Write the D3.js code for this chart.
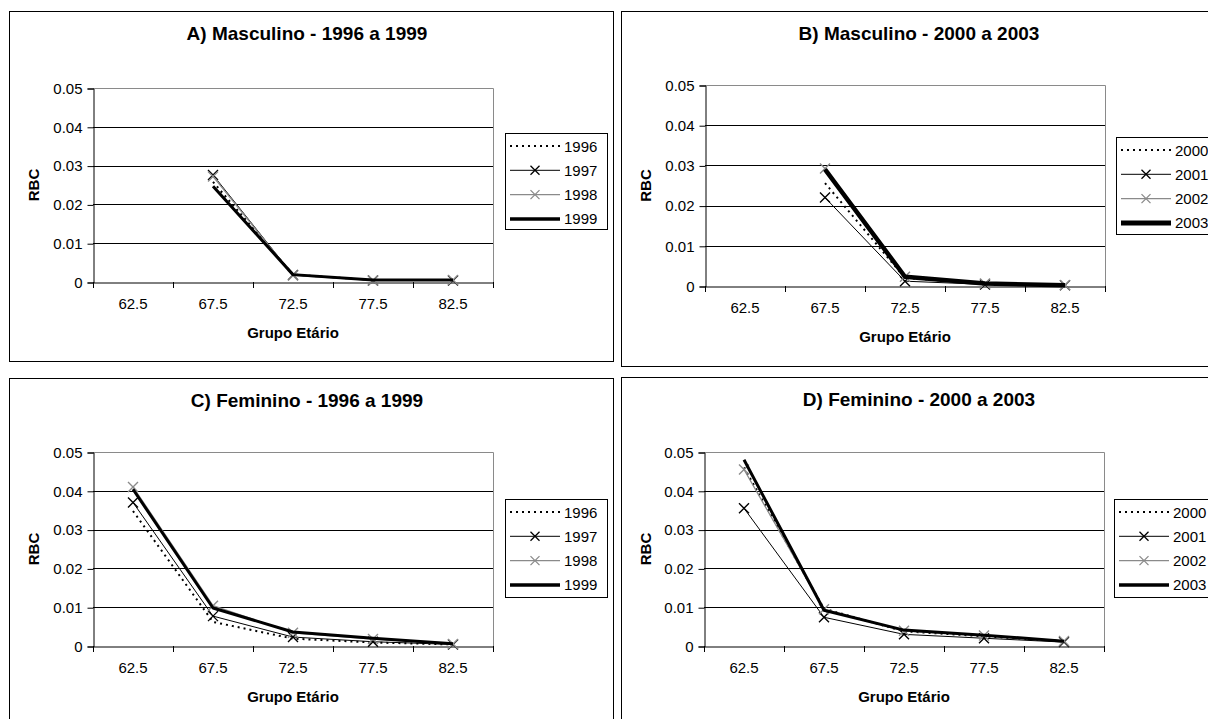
<!DOCTYPE html>
<html>
<head>
<meta charset="utf-8">
<script src="https://cdnjs.cloudflare.com/ajax/libs/d3/7.8.5/d3.min.js"></script>
<style>
body { margin: 0; background: #fff; }
svg { display: block; font-family: "Liberation Sans", Arial, sans-serif; }
</style>
</head>
<body>
<svg id="chart" width="1208" height="719"></svg>
<script>
'use strict';

var ageGroups = ['62.5', '67.5', '72.5', '77.5', '82.5'];
var yTicks = [0, 0.01, 0.02, 0.03, 0.04, 0.05];

var yearsEarly = ['1996', '1997', '1998', '1999'];
var yearsLate = ['2000', '2001', '2002', '2003'];

// Masculino (no value for 62.5)
var masc1996 = [null, 0.0258, 0.0019, 0.0005, 0.0005];
var masc1997 = [null, 0.0276, 0.0018, 0.0004, 0.0004];
var masc1998 = [null, 0.0272, 0.0017, 0.0004, 0.0005];
var masc1999 = [null, 0.0247, 0.0019, 0.0005, 0.0005];

var masc2000 = [null, 0.0256, 0.0020, 0.0006, 0.0002];
var masc2001 = [null, 0.0220, 0.0012, 0.0004, 0.0002];
var masc2002 = [null, 0.0292, 0.0023, 0.0006, 0.0002];
var masc2003 = [null, 0.0290, 0.0023, 0.0006, 0.0002];

// Feminino
var fem1996 = [0.0348, 0.0062, 0.0019, 0.0009, 0.0004];
var fem1997 = [0.0370, 0.0077, 0.0023, 0.0011, 0.0004];
var fem1998 = [0.0410, 0.0104, 0.0034, 0.0018, 0.0005];
var fem1999 = [0.0404, 0.0098, 0.0036, 0.0020, 0.0006];

var fem2000 = [0.0460, 0.0096, 0.0038, 0.0025, 0.0012];
var fem2001 = [0.0355, 0.0074, 0.0030, 0.0020, 0.0010];
var fem2002 = [0.0455, 0.0095, 0.0039, 0.0027, 0.0013];
var fem2003 = [0.0480, 0.0092, 0.0041, 0.0028, 0.0012];

var GRAY = '#8a8a8a';

var panels = [
    {
        title: 'A) Masculino - 1996 a 1999',
        box: {x: 9, y: 11, w: 604, h: 350},
        plot: {x: 93, y: 88, w: 400, h: 194},
        legend: {x: 505, y: 133, w: 102, h: 96},
        names: yearsEarly,
        series: [masc1996, masc1997, masc1998, masc1999],
        thick: 3
    },
    {
        title: 'B) Masculino - 2000 a 2003',
        box: {x: 621, y: 11, w: 604, h: 355},
        plot: {x: 705, y: 85, w: 400, h: 201},
        legend: {x: 1116, y: 137, w: 102, h: 97},
        names: yearsLate,
        series: [masc2000, masc2001, masc2002, masc2003],
        thick: 4.5
    },
    {
        title: 'C) Feminino - 1996 a 1999',
        box: {x: 9, y: 378, w: 604, h: 345},
        plot: {x: 93, y: 452, w: 400, h: 194},
        legend: {x: 505, y: 499, w: 102, h: 98},
        names: yearsEarly,
        series: [fem1996, fem1997, fem1998, fem1999],
        thick: 3
    },
    {
        title: 'D) Feminino - 2000 a 2003',
        box: {x: 621, y: 377, w: 604, h: 346},
        plot: {x: 704, y: 452, w: 400, h: 194},
        legend: {x: 1114, y: 499, w: 102, h: 98},
        names: yearsLate,
        series: [fem2000, fem2001, fem2002, fem2003],
        thick: 3
    }
];

// style per series index: dotted, black X, gray X, thick
function seriesStyle(i, thick) {
    if (i === 0) return {stroke: '#000', width: 2, dash: '2,4', marker: false};
    if (i === 1) return {stroke: '#000', width: 1, dash: null, marker: true};
    if (i === 2) return {stroke: GRAY, width: 1.3, dash: null, marker: true};
    return {stroke: '#000', width: thick, dash: null, marker: false};
}

var xMark = 'M-5,-5L5,5M-5,5L5,-5';

var svg = d3.select('#chart');

panels.forEach(function (p) {
    var g = svg.append('g');

    g.append('rect')
        .attr('x', p.box.x + 0.5).attr('y', p.box.y + 0.5)
        .attr('width', p.box.w).attr('height', p.box.h)
        .attr('fill', '#fff').attr('stroke', '#000').attr('stroke-width', 1);

    g.append('text')
        .attr('x', p.box.x + 298).attr('y', p.box.y + 29)
        .attr('text-anchor', 'middle')
        .style('font-size', '19px').style('font-weight', 'bold')
        .text(p.title);

    var x = d3.scaleBand().domain(ageGroups).range([p.plot.x, p.plot.x + p.plot.w]);
    var y = d3.scaleLinear().domain([0, 0.05]).range([p.plot.y + p.plot.h, p.plot.y]);

    // gridlines
    g.append('g').selectAll('line')
        .data(yTicks.slice(1, -1))
        .enter().append('line')
        .attr('x1', p.plot.x).attr('x2', p.plot.x + p.plot.w)
        .attr('y1', function (d) { return Math.round(y(d)) + 0.5; })
        .attr('y2', function (d) { return Math.round(y(d)) + 0.5; })
        .attr('stroke', '#000');

    // plot border top/right
    g.append('path')
        .attr('d', 'M' + p.plot.x + ',' + (p.plot.y + 0.5) + 'H' + (p.plot.x + p.plot.w + 0.5) +
            'V' + (p.plot.y + p.plot.h))
        .attr('fill', 'none').attr('stroke', GRAY);

    // y axis
    var yAxis = g.append('g')
        .attr('transform', 'translate(' + (p.plot.x + 0.5) + ',0.5)')
        .call(d3.axisLeft(y).tickValues(yTicks).tickSize(6).tickPadding(5)
            .tickFormat(function (d) { return d === 0 ? '0' : d.toFixed(2); }));
    yAxis.select('.domain').attr('stroke', '#000');
    yAxis.selectAll('text').style('font-size', '15px').style('font-family', null).attr('fill', '#000');

    // x axis labels
    var xAxis = g.append('g')
        .attr('transform', 'translate(0,' + (p.plot.y + p.plot.h + 0.5) + ')')
        .call(d3.axisBottom(x).tickSize(0).tickPadding(16));
    xAxis.select('.domain').attr('stroke', '#000');
    xAxis.selectAll('text').style('font-size', '15px').style('font-family', null).attr('fill', '#000');

    // category boundary ticks
    g.append('g').selectAll('line')
        .data(d3.range(ageGroups.length + 1))
        .enter().append('line')
        .attr('x1', function (i) { return Math.round(p.plot.x + i * x.step()) + 0.5; })
        .attr('x2', function (i) { return Math.round(p.plot.x + i * x.step()) + 0.5; })
        .attr('y1', p.plot.y + p.plot.h)
        .attr('y2', p.plot.y + p.plot.h + 6)
        .attr('stroke', '#000');

    g.append('text')
        .attr('x', p.plot.x + p.plot.w / 2).attr('y', p.plot.y + p.plot.h + 56)
        .attr('text-anchor', 'middle')
        .style('font-size', '15px').style('font-weight', 'bold')
        .text('Grupo Etário');

    g.append('text')
        .attr('transform', 'translate(' + (p.box.x + 30) + ',' + (p.plot.y + p.plot.h / 2) + ') rotate(-90)')
        .attr('text-anchor', 'middle')
        .style('font-size', '15px').style('font-weight', 'bold')
        .text('RBC');

    var line = d3.line()
        .defined(function (d) { return d != null; })
        .x(function (d, i) { return x(ageGroups[i]) + x.bandwidth() / 2; })
        .y(function (d) { return y(d); });

    p.series.forEach(function (vals, i) {
        var st = seriesStyle(i, p.thick);
        g.append('path')
            .datum(vals)
            .attr('d', line)
            .attr('fill', 'none')
            .attr('stroke', st.stroke)
            .attr('stroke-width', st.width)
            .attr('stroke-dasharray', st.dash)
            .attr('stroke-linejoin', 'round');

        if (st.marker) {
            g.append('g').selectAll('path')
                .data(vals.map(function (v, k) { return {v: v, k: k}; })
                    .filter(function (d) { return d.v != null; }))
                .enter().append('path')
                .attr('d', xMark)
                .attr('transform', function (d) {
                    return 'translate(' + (x(ageGroups[d.k]) + x.bandwidth() / 2) + ',' + y(d.v) + ')';
                })
                .attr('fill', 'none')
                .attr('stroke', st.stroke)
                .attr('stroke-width', 1.4);
        }
    });

    // legend
    var lg = g.append('g');
    lg.append('rect')
        .attr('x', p.legend.x + 0.5).attr('y', p.legend.y + 0.5)
        .attr('width', p.legend.w).attr('height', p.legend.h)
        .attr('fill', '#fff').attr('stroke', '#000');

    p.names.forEach(function (name, i) {
        var st = seriesStyle(i, p.thick);
        var ly = p.legend.y + 13 + i * 24.3;
        lg.append('line')
            .attr('x1', p.legend.x + 5).attr('x2', p.legend.x + 55)
            .attr('y1', ly).attr('y2', ly)
            .attr('stroke', st.stroke)
            .attr('stroke-width', i === 3 ? st.width + 0.5 : st.width)
            .attr('stroke-dasharray', st.dash);
        if (st.marker) {
            lg.append('path')
                .attr('d', xMark)
                .attr('transform', 'translate(' + (p.legend.x + 30) + ',' + ly + ') scale(0.9)')
                .attr('fill', 'none').attr('stroke', st.stroke).attr('stroke-width', 1.4);
        }
        lg.append('text')
            .attr('x', p.legend.x + 59).attr('y', ly + 5.5)
            .style('font-size', '15px')
            .text(name);
    });
});
</script>
</body>
</html>
